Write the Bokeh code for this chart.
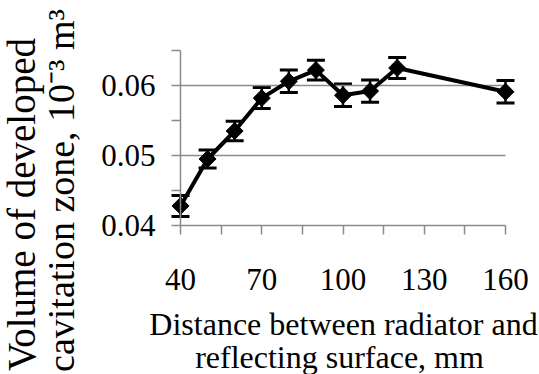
import math
from bokeh.plotting import figure
from bokeh.models import (Range1d, FixedTicker, ColumnDataSource, Whisker, TeeHead,
                          LinearAxis, Label, CustomJSTickFormatter)
from bokeh.embed import file_html
from bokeh.resources import INLINE

# ---- data ----
distance_mm = [40, 50, 60, 70, 80, 90, 100, 110, 120, 160]
volume = [0.0428, 0.0495, 0.0535, 0.0582, 0.0606, 0.0622, 0.0586, 0.0592, 0.0625, 0.0591]
error = [0.0015, 0.0013, 0.0014, 0.0015, 0.0016, 0.0014, 0.0016, 0.0016, 0.0015, 0.0016]
x_major = [40, 70, 100, 130, 160]
x_minor = [55, 85, 115, 145]
y_major = [0.04, 0.05, 0.06]
y_minor = [0.045, 0.055, 0.065]
grid_y = [0.05, 0.06]
x_title = ["Distance between radiator and", "reflecting surface, mm"]
y_title = ["Volume of developed", "cavitation zone, 10\u207b\u00b3 m\u00b3"]

FONT = "Liberation Serif"

# ---- geometry: the frame fills the page; axes sit at fixed data locations ----
W, H = 539, 374
SX = 325 / 120.0          # px per mm
SY = 175 / 0.025          # px per unit volume
X_START = 40 - 180 / SX
X_END = X_START + W / SX
Y_TOP = 0.065 + 50 / SY
Y_BOTTOM = Y_TOP - H / SY

def dx(px):
    return X_START + px / SX

def dy(py):
    return Y_TOP - py / SY

p = figure(width=W, height=H, min_border=0,
           x_range=Range1d(X_START, X_END), y_range=Range1d(Y_BOTTOM, Y_TOP),
           x_axis_location=None, y_axis_location=None,
           output_backend="svg", toolbar_location=None)
p.outline_line_color = None
p.background_fill_color = "white"
p.border_fill_color = "white"
p.xgrid.visible = False
p.ygrid.visible = False

AX_COL = "#8a8a8a"
blank = CustomJSTickFormatter(code="return ''")

def style_axis(ax):
    ax.axis_line_color = AX_COL
    ax.axis_line_width = 1.5
    ax.major_tick_line_color = AX_COL
    ax.minor_tick_line_color = AX_COL
    ax.major_tick_line_width = 1.5
    ax.minor_tick_line_width = 1.5
    ax.major_tick_in = 9
    ax.major_tick_out = 0
    ax.minor_tick_in = 9
    ax.minor_tick_out = 0
    ax.major_label_text_font_size = "0px"
    ax.major_label_standoff = 0
    ax.formatter = blank

# x axis line (ticks pointing down) at y = 0.04
xa = LinearAxis(fixed_location=y_major[0], bounds=(x_major[0], x_major[-1]),
                ticker=FixedTicker(ticks=x_major, minor_ticks=x_minor))
style_axis(xa)
p.add_layout(xa, "above")

# y axis line (ticks pointing left) at x = 40
ya = LinearAxis(fixed_location=x_major[0], bounds=(y_major[0], y_minor[-1]),
                ticker=FixedTicker(ticks=y_major, minor_ticks=y_minor))
style_axis(ya)
p.add_layout(ya, "right")

# grid lines
p.segment(x0=[x_major[0]] * len(grid_y), x1=[x_major[-1]] * len(grid_y), y0=grid_y, y1=grid_y,
          line_color=AX_COL, line_width=1.5)

src = ColumnDataSource(dict(x=distance_mm, y=volume,
                            lo=[v - e for v, e in zip(volume, error)],
                            hi=[v + e for v, e in zip(volume, error)]))

p.line("x", "y", source=src, line_color="black", line_width=4)
w = Whisker(base="x", lower="lo", upper="hi", source=src, line_color="black", line_width=2.5,
            upper_head=TeeHead(size=18, line_color="black", line_width=3),
            lower_head=TeeHead(size=18, line_color="black", line_width=3))
p.add_layout(w)
p.scatter("x", "y", source=src, marker="square", angle=math.pi / 4, size=12,
          fill_color="black", line_color="black", line_width=1)

def add_label(x, y, text, size, align="center", baseline="alphabetic", angle=0.0):
    p.add_layout(Label(x=x, y=y, text=text, angle=angle, text_align=align,
                       text_baseline=baseline, text_font=FONT, text_font_size=size,
                       text_color="black"))

# tick labels
for t in x_major:
    add_label(t, dy(279), str(t), "31px")
for t in y_major:
    add_label(dx(155), t, f"{t:.2f}", "31px", align="right", baseline="middle")

# axis titles
add_label(dx(343), dy(323), x_title[0], "32px")
add_label(dx(339), dy(356), x_title[1], "32px")
add_label(dx(21), dy(204), y_title[0], "39px", angle=math.pi / 2)
add_label(dx(60), dy(190), y_title[1], "38px", angle=math.pi / 2)

open("out.html", "w").write(file_html(p, INLINE))
